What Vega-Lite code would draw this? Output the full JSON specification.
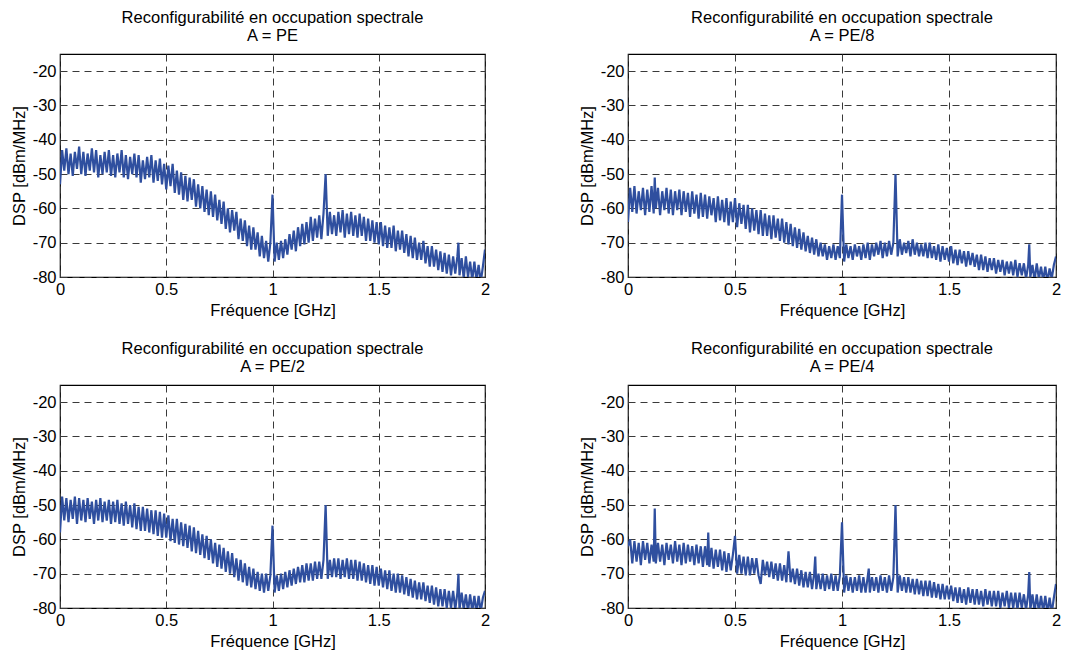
{
"$schema": "https://vega.github.io/schema/vega-lite/v6.json",
"padding": {"left": 10, "top": 8, "right": 5, "bottom": 5},
"background": "white",
"config": {
 "font": "Liberation Sans",
 "view": {"stroke": "black", "strokeWidth": 1.2},
 "axis": {"labelFont": "Liberation Sans", "labelFontSize": 16.5, "labelColor": "black", "titleFont": "Liberation Sans", "titleFontSize": 16.5, "titleFontWeight": "normal", "titleColor": "black", "grid": true, "gridColor": "#3a3a3a", "gridDash": [7, 5], "gridWidth": 1, "gridOpacity": 1, "domain": false, "ticks": false, "labelPadding": 4, "titlePadding": 5, "labelFlush": false},
 "title": {"font": "Liberation Sans", "fontSize": 16.5, "fontWeight": "normal", "color": "black", "offset": 10, "lineHeight": 18, "anchor": "middle"}
},
"datasets": {"s": [
{"f":0,"a":-53,"b":-64,"c":-58,"d":-62},
{"f":0.01,"a":-43,"b":-54,"c":-47.5,"d":-60},
{"f":0.02,"a":-49,"b":-61,"c":-54.5,"d":-67},
{"f":0.03,"a":-42.5,"b":-53.5,"c":-48,"d":-60.5},
{"f":0.04,"a":-50,"b":-61.5,"c":-55,"d":-66.5},
{"f":0.05,"a":-44,"b":-55,"c":-48.5,"d":-61},
{"f":0.06,"a":-50.5,"b":-60.5,"c":-54,"d":-67.5},
{"f":0.07,"a":-43.5,"b":-54,"c":-47.5,"d":-60.5},
{"f":0.08,"a":-48.5,"b":-62,"c":-55.5,"d":-66},
{"f":0.09,"a":-42,"b":-54.5,"c":-48,"d":-61},
{"f":0.10,"a":-50,"b":-61,"c":-54.5,"d":-67},
{"f":0.11,"a":-43.5,"b":-53.5,"c":-48.5,"d":-61.5},
{"f":0.12,"a":-50.5,"b":-61.5,"c":-55,"d":-66.5},
{"f":0.125,"a":-47,"b":-51,"c":-51.5,"d":-51},
{"f":0.13,"a":-44,"b":-60,"c":-48,"d":-67},
{"f":0.14,"a":-49,"b":-54,"c":-54,"d":-61},
{"f":0.15,"a":-42.5,"b":-62,"c":-49,"d":-66.5},
{"f":0.16,"a":-49.5,"b":-55,"c":-55.5,"d":-61.5},
{"f":0.17,"a":-43,"b":-60.5,"c":-48.5,"d":-67.5},
{"f":0.18,"a":-51,"b":-54,"c":-54.5,"d":-61},
{"f":0.19,"a":-44.5,"b":-61.5,"c":-48,"d":-66},
{"f":0.20,"a":-50,"b":-54.5,"c":-55,"d":-61.5},
{"f":0.21,"a":-43.5,"b":-62,"c":-49,"d":-67},
{"f":0.22,"a":-49.5,"b":-55,"c":-54.5,"d":-60.5},
{"f":0.23,"a":-43,"b":-60.5,"c":-48.5,"d":-66.5},
{"f":0.24,"a":-50.5,"b":-54.5,"c":-55.5,"d":-61.5},
{"f":0.25,"a":-44.5,"b":-62,"c":-49,"d":-67.5},
{"f":0.26,"a":-51,"b":-55,"c":-55,"d":-61},
{"f":0.27,"a":-44,"b":-61,"c":-48.5,"d":-67},
{"f":0.28,"a":-49.5,"b":-55.5,"c":-55.5,"d":-61.5},
{"f":0.29,"a":-43,"b":-62.5,"c":-49.5,"d":-66.5},
{"f":0.30,"a":-51,"b":-55,"c":-56,"d":-62},
{"f":0.31,"a":-44.5,"b":-61.5,"c":-49,"d":-67.5},
{"f":0.32,"a":-51.5,"b":-56,"c":-55.5,"d":-61.5},
{"f":0.33,"a":-45,"b":-63,"c":-50,"d":-67},
{"f":0.34,"a":-50,"b":-55.5,"c":-56.5,"d":-62},
{"f":0.35,"a":-44,"b":-62.5,"c":-49.5,"d":-68},
{"f":0.36,"a":-51,"b":-56,"c":-57,"d":-62},
{"f":0.37,"a":-44.5,"b":-63,"c":-50.5,"d":-67.5},
{"f":0.375,"a":-48,"b":-59.5,"c":-54,"d":-58},
{"f":0.38,"a":-52.5,"b":-56.5,"c":-57.5,"d":-68},
{"f":0.39,"a":-46,"b":-62,"c":-50.5,"d":-62.5},
{"f":0.40,"a":-51.5,"b":-57,"c":-57.5,"d":-68.5},
{"f":0.41,"a":-45,"b":-64,"c":-51,"d":-63},
{"f":0.42,"a":-51,"b":-56.5,"c":-58,"d":-68},
{"f":0.43,"a":-44.5,"b":-63.5,"c":-51.5,"d":-63},
{"f":0.44,"a":-52.5,"b":-57.5,"c":-58.5,"d":-69},
{"f":0.45,"a":-46,"b":-64,"c":-51.5,"d":-63.5},
{"f":0.46,"a":-52,"b":-57,"c":-59,"d":-69.5},
{"f":0.47,"a":-45.5,"b":-65,"c":-52,"d":-64},
{"f":0.48,"a":-53,"b":-58,"c":-59.5,"d":-69},
{"f":0.49,"a":-47,"b":-64,"c":-52.5,"d":-64.5},
{"f":0.50,"a":-54.5,"b":-57,"c":-59.5,"d":-59},
{"f":0.51,"a":-47.5,"b":-65.5,"c":-53,"d":-70},
{"f":0.52,"a":-53.5,"b":-58.5,"c":-60.5,"d":-64.5},
{"f":0.53,"a":-47,"b":-64.5,"c":-54,"d":-70},
{"f":0.54,"a":-55.5,"b":-59,"c":-61,"d":-65},
{"f":0.55,"a":-49,"b":-66,"c":-54,"d":-70.5},
{"f":0.56,"a":-56,"b":-59,"c":-61.5,"d":-65},
{"f":0.57,"a":-49.5,"b":-67,"c":-55,"d":-70.5},
{"f":0.58,"a":-57.5,"b":-60,"c":-62,"d":-65.5},
{"f":0.59,"a":-50.5,"b":-66.5,"c":-55.5,"d":-70},
{"f":0.60,"a":-58,"b":-60.5,"c":-62.5,"d":-65.5},
{"f":0.61,"a":-51,"b":-67.5,"c":-56,"d":-70.5},
{"f":0.62,"a":-57.5,"b":-60.5,"c":-63.5,"d":-73},
{"f":0.63,"a":-51.5,"b":-68,"c":-56.5,"d":-66},
{"f":0.64,"a":-59.5,"b":-61.5,"c":-64,"d":-70.5},
{"f":0.65,"a":-53,"b":-68,"c":-57.5,"d":-66.5},
{"f":0.66,"a":-60,"b":-62,"c":-64.5,"d":-71},
{"f":0.67,"a":-53.5,"b":-69,"c":-58.5,"d":-66.5},
{"f":0.68,"a":-61,"b":-62,"c":-65.5,"d":-71.5},
{"f":0.69,"a":-54.5,"b":-68.5,"c":-59,"d":-67},
{"f":0.70,"a":-62,"b":-63,"c":-66,"d":-72},
{"f":0.71,"a":-55,"b":-69.5,"c":-60,"d":-67},
{"f":0.72,"a":-62.5,"b":-63,"c":-67,"d":-72},
{"f":0.73,"a":-56,"b":-70,"c":-61,"d":-67.5},
{"f":0.74,"a":-63.5,"b":-64,"c":-68,"d":-72.5},
{"f":0.75,"a":-57.5,"b":-70.5,"c":-61.5,"d":-63.5},
{"f":0.76,"a":-64.5,"b":-64.5,"c":-68.5,"d":-72.5},
{"f":0.77,"a":-58,"b":-71,"c":-62.5,"d":-68.5},
{"f":0.78,"a":-66,"b":-65.5,"c":-69.5,"d":-73},
{"f":0.79,"a":-60,"b":-71.5,"c":-63.5,"d":-68.5},
{"f":0.80,"a":-67,"b":-66,"c":-70,"d":-73.5},
{"f":0.81,"a":-60.5,"b":-72,"c":-64,"d":-69},
{"f":0.82,"a":-66.5,"b":-67,"c":-71,"d":-74},
{"f":0.83,"a":-61,"b":-72.5,"c":-65.5,"d":-69.5},
{"f":0.84,"a":-69,"b":-68,"c":-72,"d":-74},
{"f":0.85,"a":-63,"b":-73,"c":-66,"d":-69.5},
{"f":0.86,"a":-69.5,"b":-68.5,"c":-72.5,"d":-74.5},
{"f":0.87,"a":-63.5,"b":-73.5,"c":-67,"d":-70},
{"f":0.875,"a":-67,"b":-71,"c":-70,"d":-65},
{"f":0.88,"a":-71,"b":-69,"c":-73.5,"d":-74.5},
{"f":0.89,"a":-65,"b":-74,"c":-68,"d":-70},
{"f":0.90,"a":-72,"b":-70,"c":-74,"d":-74.5},
{"f":0.91,"a":-65.5,"b":-74,"c":-68.5,"d":-70},
{"f":0.92,"a":-72,"b":-70.5,"c":-74.5,"d":-75},
{"f":0.93,"a":-67,"b":-75,"c":-69.5,"d":-70.5},
{"f":0.94,"a":-74,"b":-71,"c":-75,"d":-74.5},
{"f":0.95,"a":-68,"b":-74.5,"c":-70,"d":-70},
{"f":0.96,"a":-74.5,"b":-70.5,"c":-75.5,"d":-75},
{"f":0.97,"a":-69.5,"b":-75,"c":-70,"d":-70.5},
{"f":0.98,"a":-75.5,"b":-71,"c":-75,"d":-75},
{"f":0.99,"a":-70,"b":-74.5,"c":-70.5,"d":-70.5},
{"f":1.00,"a":-56,"b":-56,"c":-56,"d":-55},
{"f":1.01,"a":-75.5,"b":-75.5,"c":-75.5,"d":-75.5},
{"f":1.02,"a":-70,"b":-70.5,"c":-70.5,"d":-70.5},
{"f":1.03,"a":-75,"b":-74.5,"c":-75,"d":-75},
{"f":1.04,"a":-69.5,"b":-71,"c":-70,"d":-71},
{"f":1.05,"a":-74.5,"b":-75,"c":-74.5,"d":-75.5},
{"f":1.06,"a":-69,"b":-70.5,"c":-69.5,"d":-71},
{"f":1.07,"a":-73.5,"b":-74,"c":-74,"d":-75},
{"f":1.08,"a":-67.5,"b":-71,"c":-69,"d":-70.5},
{"f":1.09,"a":-72,"b":-75,"c":-73.5,"d":-75.5},
{"f":1.10,"a":-66.5,"b":-70.5,"c":-68.5,"d":-71},
{"f":1.11,"a":-72.5,"b":-74.5,"c":-73,"d":-75.5},
{"f":1.12,"a":-65.5,"b":-70,"c":-68,"d":-71},
{"f":1.125,"a":-68,"b":-72.5,"c":-70,"d":-68.5},
{"f":1.13,"a":-71,"b":-75,"c":-72.5,"d":-75.5},
{"f":1.14,"a":-64.5,"b":-70.5,"c":-67.5,"d":-71},
{"f":1.15,"a":-70.5,"b":-74,"c":-72.5,"d":-75},
{"f":1.16,"a":-64,"b":-70,"c":-67,"d":-71},
{"f":1.17,"a":-70,"b":-73.5,"c":-72,"d":-75.5},
{"f":1.18,"a":-62.5,"b":-69.5,"c":-67,"d":-70.5},
{"f":1.19,"a":-69.5,"b":-74.5,"c":-72,"d":-75},
{"f":1.20,"a":-63,"b":-70,"c":-66.5,"d":-71},
{"f":1.21,"a":-68.5,"b":-74,"c":-71.5,"d":-75.5},
{"f":1.22,"a":-62,"b":-69.5,"c":-66.5,"d":-70.5},
{"f":1.23,"a":-69,"b":-73.5,"c":-71.5,"d":-75},
{"f":1.24,"a":-61.5,"b":-70,"c":-66,"d":-71},
{"f":1.25,"a":-50,"b":-50,"c":-50,"d":-50},
{"f":1.26,"a":-68,"b":-74,"c":-71.5,"d":-75.5},
{"f":1.27,"a":-61,"b":-69,"c":-66,"d":-70.5},
{"f":1.28,"a":-67.5,"b":-73.5,"c":-71,"d":-75},
{"f":1.29,"a":-62,"b":-70,"c":-65.5,"d":-71},
{"f":1.30,"a":-68,"b":-73,"c":-71,"d":-75.5},
{"f":1.31,"a":-61,"b":-69.5,"c":-65.5,"d":-71},
{"f":1.32,"a":-67,"b":-74,"c":-71.5,"d":-75.5},
{"f":1.33,"a":-60.5,"b":-69,"c":-66,"d":-71.5},
{"f":1.34,"a":-68.5,"b":-73.5,"c":-71,"d":-76},
{"f":1.35,"a":-61.5,"b":-70,"c":-65.5,"d":-71.5},
{"f":1.36,"a":-67.5,"b":-74,"c":-71.5,"d":-76},
{"f":1.37,"a":-61,"b":-70.5,"c":-66,"d":-72},
{"f":1.38,"a":-68,"b":-74,"c":-71.5,"d":-76.5},
{"f":1.39,"a":-62,"b":-70,"c":-66,"d":-72},
{"f":1.40,"a":-68.5,"b":-74.5,"c":-72,"d":-76.5},
{"f":1.41,"a":-61.5,"b":-70,"c":-66.5,"d":-72},
{"f":1.42,"a":-68,"b":-74.5,"c":-72,"d":-77},
{"f":1.43,"a":-62.5,"b":-71,"c":-67,"d":-72.5},
{"f":1.44,"a":-69.5,"b":-75,"c":-72.5,"d":-77},
{"f":1.45,"a":-63,"b":-70.5,"c":-67.5,"d":-73},
{"f":1.46,"a":-69.5,"b":-75.5,"c":-73,"d":-77.5},
{"f":1.47,"a":-63.5,"b":-71,"c":-67.5,"d":-73},
{"f":1.48,"a":-70,"b":-75,"c":-73.5,"d":-77.5},
{"f":1.49,"a":-64,"b":-71.5,"c":-68,"d":-73.5},
{"f":1.50,"a":-70.5,"b":-75.5,"c":-73.5,"d":-77.5},
{"f":1.51,"a":-64,"b":-71,"c":-68.5,"d":-73.5},
{"f":1.52,"a":-71,"b":-76,"c":-74,"d":-78},
{"f":1.53,"a":-65,"b":-72,"c":-69,"d":-74},
{"f":1.54,"a":-71.5,"b":-76.5,"c":-74.5,"d":-78.5},
{"f":1.55,"a":-65.5,"b":-72,"c":-69,"d":-74},
{"f":1.56,"a":-71.5,"b":-76,"c":-75,"d":-78.5},
{"f":1.57,"a":-65,"b":-72.5,"c":-70,"d":-74.5},
{"f":1.58,"a":-72.5,"b":-77,"c":-75.5,"d":-79},
{"f":1.59,"a":-66.5,"b":-72.5,"c":-70,"d":-74},
{"f":1.60,"a":-72,"b":-76.5,"c":-75.5,"d":-78.5},
{"f":1.61,"a":-66.5,"b":-73,"c":-70.5,"d":-74.5},
{"f":1.62,"a":-73,"b":-77,"c":-76,"d":-79},
{"f":1.63,"a":-67.5,"b":-73.5,"c":-71,"d":-74.5},
{"f":1.64,"a":-74,"b":-78,"c":-76.5,"d":-79},
{"f":1.65,"a":-68,"b":-73.5,"c":-71.5,"d":-75},
{"f":1.66,"a":-74.5,"b":-78,"c":-77,"d":-79.5},
{"f":1.67,"a":-68.5,"b":-74,"c":-72,"d":-74.5},
{"f":1.68,"a":-75,"b":-78.5,"c":-77.5,"d":-79},
{"f":1.69,"a":-70,"b":-74.5,"c":-72.5,"d":-75},
{"f":1.70,"a":-75,"b":-78,"c":-77.5,"d":-79.5},
{"f":1.71,"a":-69.5,"b":-74.5,"c":-72.5,"d":-75},
{"f":1.72,"a":-76,"b":-79,"c":-78,"d":-79.5},
{"f":1.73,"a":-71,"b":-75,"c":-73.5,"d":-75},
{"f":1.74,"a":-77,"b":-78.5,"c":-78.5,"d":-80},
{"f":1.75,"a":-71,"b":-75,"c":-73.5,"d":-75.5},
{"f":1.76,"a":-77,"b":-79.5,"c":-79,"d":-79.5},
{"f":1.77,"a":-72,"b":-75.5,"c":-74,"d":-75},
{"f":1.78,"a":-78,"b":-79,"c":-79.5,"d":-80},
{"f":1.79,"a":-72.5,"b":-75.5,"c":-74.5,"d":-75.5},
{"f":1.80,"a":-78.5,"b":-79.5,"c":-79.5,"d":-80},
{"f":1.81,"a":-73,"b":-75,"c":-74.5,"d":-75.5},
{"f":1.82,"a":-79,"b":-80,"c":-80,"d":-80.5},
{"f":1.83,"a":-73.5,"b":-76,"c":-75,"d":-75.5},
{"f":1.84,"a":-79.5,"b":-79.5,"c":-80,"d":-80},
{"f":1.85,"a":-74,"b":-76,"c":-75,"d":-76},
{"f":1.86,"a":-79,"b":-80.5,"c":-80.5,"d":-80.5},
{"f":1.87,"a":-74,"b":-76.5,"c":-75.5,"d":-76},
{"f":1.875,"a":-70,"b":-70.5,"c":-70,"d":-69.5},
{"f":1.88,"a":-79.5,"b":-80,"c":-80.5,"d":-80.5},
{"f":1.89,"a":-74.5,"b":-76.5,"c":-75.5,"d":-76},
{"f":1.90,"a":-80.5,"b":-81,"c":-80.5,"d":-81},
{"f":1.91,"a":-74,"b":-76,"c":-76,"d":-76},
{"f":1.92,"a":-80,"b":-80.5,"c":-81,"d":-81},
{"f":1.93,"a":-75.5,"b":-77,"c":-76,"d":-76.5},
{"f":1.94,"a":-81,"b":-81,"c":-81,"d":-81},
{"f":1.95,"a":-75.5,"b":-77,"c":-76.5,"d":-76.5},
{"f":1.96,"a":-81,"b":-81.5,"c":-81.5,"d":-81.5},
{"f":1.97,"a":-76.5,"b":-77.5,"c":-76.5,"d":-77},
{"f":1.98,"a":-81.5,"b":-80.5,"c":-81,"d":-81.5},
{"f":1.99,"a":-77,"b":-76.5,"c":-77,"d":-77},
{"f":2.00,"a":-72,"b":-74,"c":-75,"d":-73}
]},
"spacing": 19,
"vconcat": [
 {"spacing": 87, "hconcat": [
  {"width": 425, "height": 223, "data": {"name": "s"},
   "title": {"text": ["Reconfigurabilité en occupation spectrale", "A = PE"]},
   "mark": {"type": "line", "color": "#2f4f9f", "strokeWidth": 2.2, "clip": true},
   "encoding": {
    "x": {"field": "f", "type": "quantitative", "scale": {"domain": [0, 2], "nice": false}, "axis": {"values": [0, 0.5, 1, 1.5, 2], "title": "Fréquence [GHz]", "labelExpr": "'' + datum.value"}},
    "y": {"field": "a", "type": "quantitative", "scale": {"domain": [-80, -15], "nice": false, "zero": false}, "axis": {"values": [-80, -70, -60, -50, -40, -30, -20], "title": "DSP [dBm/MHz]", "labelExpr": "'' + datum.value"}}}},
  {"width": 428, "height": 223, "data": {"name": "s"},
   "title": {"text": ["Reconfigurabilité en occupation spectrale", "A = PE/8"]},
   "mark": {"type": "line", "color": "#2f4f9f", "strokeWidth": 2.2, "clip": true},
   "encoding": {
    "x": {"field": "f", "type": "quantitative", "scale": {"domain": [0, 2], "nice": false}, "axis": {"values": [0, 0.5, 1, 1.5, 2], "title": "Fréquence [GHz]", "labelExpr": "'' + datum.value"}},
    "y": {"field": "b", "type": "quantitative", "scale": {"domain": [-80, -15], "nice": false, "zero": false}, "axis": {"values": [-80, -70, -60, -50, -40, -30, -20], "title": "DSP [dBm/MHz]", "labelExpr": "'' + datum.value"}}}}
 ]},
 {"spacing": 87, "hconcat": [
  {"width": 425, "height": 223, "data": {"name": "s"},
   "title": {"text": ["Reconfigurabilité en occupation spectrale", "A = PE/2"]},
   "mark": {"type": "line", "color": "#2f4f9f", "strokeWidth": 2.2, "clip": true},
   "encoding": {
    "x": {"field": "f", "type": "quantitative", "scale": {"domain": [0, 2], "nice": false}, "axis": {"values": [0, 0.5, 1, 1.5, 2], "title": "Fréquence [GHz]", "labelExpr": "'' + datum.value"}},
    "y": {"field": "c", "type": "quantitative", "scale": {"domain": [-80, -15], "nice": false, "zero": false}, "axis": {"values": [-80, -70, -60, -50, -40, -30, -20], "title": "DSP [dBm/MHz]", "labelExpr": "'' + datum.value"}}}},
  {"width": 428, "height": 223, "data": {"name": "s"},
   "title": {"text": ["Reconfigurabilité en occupation spectrale", "A = PE/4"]},
   "mark": {"type": "line", "color": "#2f4f9f", "strokeWidth": 2.2, "clip": true},
   "encoding": {
    "x": {"field": "f", "type": "quantitative", "scale": {"domain": [0, 2], "nice": false}, "axis": {"values": [0, 0.5, 1, 1.5, 2], "title": "Fréquence [GHz]", "labelExpr": "'' + datum.value"}},
    "y": {"field": "d", "type": "quantitative", "scale": {"domain": [-80, -15], "nice": false, "zero": false}, "axis": {"values": [-80, -70, -60, -50, -40, -30, -20], "title": "DSP [dBm/MHz]", "labelExpr": "'' + datum.value"}}}}
 ]}
]
}
